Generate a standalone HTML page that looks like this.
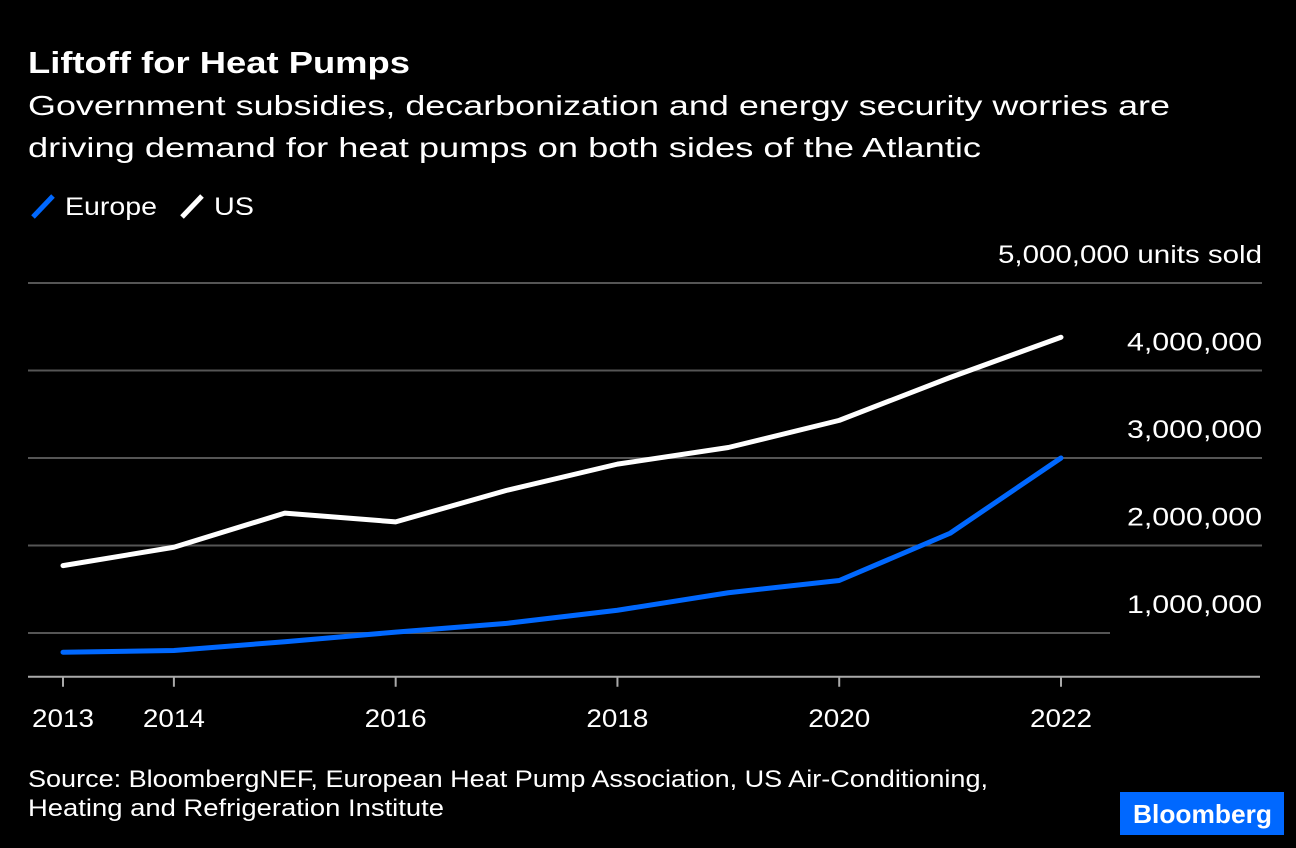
<!DOCTYPE html>
<html><head><meta charset="utf-8">
<style>
body{margin:0;background:#000;width:1296px;height:848px;overflow:hidden;font-family:"Liberation Sans",Arial,sans-serif;color:#fff}
svg{position:absolute;left:0;top:0}
</style></head>
<body>
<svg id="c" width="1296" height="848">
<text x="28" y="73" font-size="31" font-weight="bold" fill="#fff" textLength="382" lengthAdjust="spacingAndGlyphs">Liftoff for Heat Pumps</text>
<text x="28" y="115" font-size="28" fill="#fff" textLength="1142" lengthAdjust="spacingAndGlyphs">Government subsidies, decarbonization and energy security worries are</text>
<text x="28" y="157" font-size="28" fill="#fff" textLength="953" lengthAdjust="spacingAndGlyphs">driving demand for heat pumps on both sides of the Atlantic</text>
<g>
<line x1="33" y1="217" x2="53" y2="196" stroke="#0068ff" stroke-width="5"/>
<text x="65" y="215" font-size="25" fill="#fff" textLength="92" lengthAdjust="spacingAndGlyphs">Europe</text>
<line x1="182" y1="217" x2="202" y2="196" stroke="#fff" stroke-width="5"/>
<text x="214" y="215" font-size="25" fill="#fff" textLength="40" lengthAdjust="spacingAndGlyphs">US</text>
</g>
<g id="grid"></g>
<g id="series"></g>
<text x="28" y="787" font-size="24" fill="#fff" textLength="960" lengthAdjust="spacingAndGlyphs">Source: BloombergNEF, European Heat Pump Association, US Air-Conditioning,</text>
<text x="28" y="816" font-size="24" fill="#fff" textLength="416" lengthAdjust="spacingAndGlyphs">Heating and Refrigeration Institute</text>
<rect x="1120" y="792" width="164" height="43" fill="#0068ff"/>
<text x="1133" y="823" font-size="26" font-weight="bold" fill="#fff" textLength="139" lengthAdjust="spacingAndGlyphs">Bloomberg</text>
</svg>
<script>
const years=[2013,2014,2015,2016,2017,2018,2019,2020,2021,2022];
const usValues=[1.77,1.98,2.37,2.27,2.63,2.93,3.12,3.43,3.92,4.38];
const europeValues=[0.78,0.80,0.90,1.01,1.11,1.26,1.46,1.60,2.14,3.00];
const yTicks=[1,2,3,4,5];
const yTickLabels=["1,000,000","2,000,000","3,000,000","4,000,000","5,000,000 units sold"];
const xTicks=[2013,2014,2016,2018,2020,2022];
const NS="http://www.w3.org/2000/svg";
function xs(yr){return 63+(yr-2013)*(1061-63)/9;}
function ys(v){return 720.5-v*87.5;}
function mk(t,a,p){const e=document.createElementNS(NS,t);for(const k in a)e.setAttribute(k,a[k]);p.appendChild(e);return e;}
const grid=document.getElementById('grid');
yTicks.forEach((v,i)=>{
  const end=v===1?1110:1262;
  const l=mk('line',{x1:28,x2:end,y1:ys(v),y2:ys(v),stroke:'#555','stroke-width':2},grid);
  
  
  const len=v===5?264:135;
  const t=mk('text',{x:1262-len,y:ys(v)-20,'font-size':25,fill:'#fff',textLength:len,lengthAdjust:'spacingAndGlyphs'},grid);
  t.textContent=yTickLabels[i];
  
  
});
const base=ys(0.5);
const ax=mk('line',{x1:28,x2:1260,y1:base,y2:base,stroke:'#aaa','stroke-width':2},grid);


xTicks.forEach(yr=>{
  const tk=mk('line',{x1:xs(yr),x2:xs(yr),y1:base,y2:base+10,stroke:'#aaa','stroke-width':2},grid);
  
  
  const t=mk('text',{x:xs(yr)-31,y:727,'font-size':25,fill:'#fff',textLength:62,lengthAdjust:'spacingAndGlyphs'},grid);
  t.textContent=yr;
  
  
});
const ser=document.getElementById('series');
function line(vals,color,name){
  const d=vals.map((v,i)=>(i?'L':'M')+xs(years[i])+','+ys(v)).join('');
  const p=mk('path',{d:d,fill:'none',stroke:color,'stroke-width':5,'stroke-linejoin':'round','stroke-linecap':'round'},ser);
  
  
}
line(europeValues,'#0068ff','europe-line');
line(usValues,'#ffffff','us-line');
</script>
</body></html>
